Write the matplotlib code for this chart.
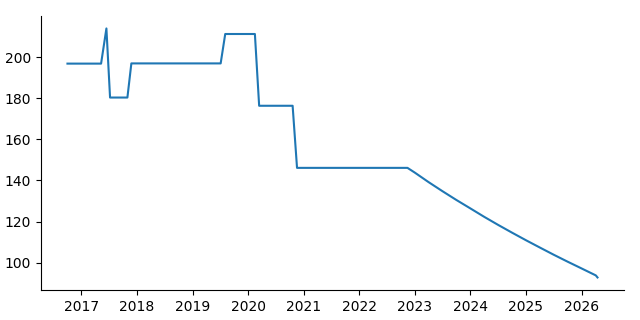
import matplotlib
matplotlib.use("Agg")
import matplotlib.pyplot as plt
import pandas as pd

dates = [
    "2016-10-01", "2017-05-10", "2017-06-14", "2017-07-08", "2017-10-30",
    "2017-11-25", "2019-07-05", "2019-08-04", "2020-02-15", "2020-03-14",
    "2020-10-20", "2020-11-18", "2022-11-14",
    "2023-01-01", "2023-04-01", "2023-07-01", "2023-10-01", "2024-01-01",
    "2024-04-01", "2024-07-01", "2024-10-01", "2025-01-01", "2025-04-01",
    "2025-07-01", "2025-10-01", "2026-01-01", "2026-04-05", "2026-04-16",
]
values = [
    196.8, 196.8, 213.9, 180.3, 180.3,
    196.9, 196.9, 211.2, 211.2, 176.3,
    176.3, 146.1, 146.1,
    143.8, 139.2, 134.8, 130.5, 126.4,
    122.3, 118.4, 114.6, 110.9, 107.4,
    103.9, 100.5, 97.2, 93.8, 92.8,
]

x = pd.to_datetime(dates)

fig = plt.figure(figsize=(6.4, 3.2), dpi=100)
ax = fig.add_axes([0.064, 0.094, 0.911, 0.856])
ax.plot(x, values, color="#1f77b4", linewidth=1.5)
ax.spines["top"].set_visible(False)
ax.spines["right"].set_visible(False)
ax.set_yticks([100, 120, 140, 160, 180, 200])
fig.savefig("out.png", dpi=100)
